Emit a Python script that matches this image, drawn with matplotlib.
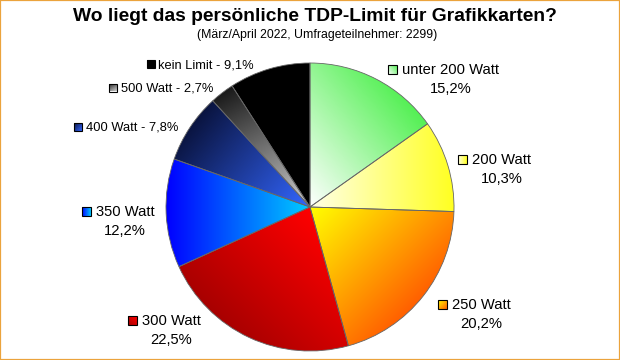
import numpy as np
import matplotlib
matplotlib.use('Agg')
import matplotlib.pyplot as plt
from matplotlib.colors import LinearSegmentedColormap
from matplotlib.patches import Rectangle

plt.rcParams['font.family'] = ['Liberation Sans', 'DejaVu Sans']

TITLE = "Wo liegt das persönliche TDP-Limit für Grafikkarten?"
SUBTITLE = "(März/April 2022, Umfrageteilnehmer: 2299)"

labels = ["unter 200 Watt", "200 Watt", "250 Watt", "300 Watt",
          "350 Watt", "400 Watt", "500 Watt", "kein Limit"]
shares = [15.2, 10.3, 20.2, 22.5, 12.2, 7.8, 2.7, 9.1]

# gradient per slice: start colour, end colour, direction (deg)
grad_start = ["#ffffff", "#ffffe8", "#ffff00", "#ff0000",
              "#0000ff", "#0a1440", "#1a1a1a", "#000000"]
grad_end = ["#55f055", "#ffff22", "#ff6000", "#a80000",
            "#00ccff", "#3366ff", "#d0d0d0", "#000000"]
grad_dir = [40, 0, -45, -135, 0, -40, -60, 0]

# label layout in pixels (square centre x, text baseline y, two lines?)
label_pos = [(392.5, 74, True), (462.5, 164, True), (442.5, 309, True),
             (132.5, 325, True), (86, 216, True), (78, 131, False),
             (113, 91.5, False), (150.5, 68, False)]

W, H = 620, 360
CX, CY, R = 310, H - 207, 144


def pct(v):
    return f"{v:.1f}".replace('.', ',') + "%"


def gradient_fill(ax, clip, c1, c2, angle, pts, extent):
    d = np.array([np.cos(np.radians(angle)), np.sin(np.radians(angle))])
    proj = pts @ d
    lo, hi = proj.min(), proj.max()
    xs = np.linspace(extent[0], extent[1], 300)
    ys = np.linspace(extent[2], extent[3], 300)
    X, Y = np.meshgrid(xs, ys)
    t = (X * d[0] + Y * d[1] - lo) / max(hi - lo, 1e-6)
    cmap = LinearSegmentedColormap.from_list("g", [c1, c2])
    im = ax.imshow(np.clip(t, 0, 1), extent=extent, origin='lower', cmap=cmap,
                   vmin=0, vmax=1, interpolation='bilinear', zorder=1)
    im.set_clip_path(clip)
    return im


fig = plt.figure(figsize=(6.2, 3.6), dpi=100)
ax = fig.add_axes([0, 0, 1, 1])

wedges, _ = ax.pie(shares, startangle=90, counterclock=False,
                   center=(CX, CY), radius=R, frame=True,
                   wedgeprops=dict(edgecolor='#666666', linewidth=0.6))

for i, w in enumerate(wedges):
    w.set_facecolor('none')
    w.set_zorder(2)
    th = np.radians(np.linspace(w.theta1, w.theta2, 60))
    pts = np.column_stack([CX + R * np.cos(th), CY + R * np.sin(th)])
    pts = np.vstack([pts, [CX, CY]])
    gradient_fill(ax, w, grad_start[i], grad_end[i], grad_dir[i], pts,
                  (CX - R, CX + R, CY - R, CY + R))

ax.set_xlim(0, W)
ax.set_ylim(0, H)
ax.axis('off')

# labels with small gradient squares
for i, (x, yb, two) in enumerate(label_pos):
    yy = H - yb
    s = 9 if two else 8
    sq = Rectangle((x - s / 2, yy), s, s, facecolor='none',
                   edgecolor='black', linewidth=0.8, zorder=4)
    ax.add_patch(sq)
    corners = np.array([[x - s / 2, yy], [x + s / 2, yy + s],
                        [x - s / 2, yy + s], [x + s / 2, yy]])
    gradient_fill(ax, sq, grad_start[i], grad_end[i], grad_dir[i], corners,
                  (x - s / 2, x + s / 2, yy, yy + s))
    if two:
        t = ax.text(x + 9.5, yy, labels[i], fontsize=10.6, va='baseline',
                    ha='left', color='black', zorder=5)
        fig.canvas.draw()
        bb = t.get_window_extent()
        ax.text((x + 9.5 + bb.x1) / 2, yy - 19, pct(shares[i]), fontsize=10.6,
                va='baseline', ha='center', color='black', zorder=5)
    else:
        ax.text(x + 8, yy, f"{labels[i]} - {pct(shares[i])}", fontsize=9.3,
                va='baseline', ha='left', color='black', zorder=5)

ax.text(315, H - 21, TITLE, fontsize=13.9, fontweight='bold',
        ha='center', va='baseline')
ax.text(317, H - 38, SUBTITLE, fontsize=8.8, ha='center', va='baseline')

fig.patches.append(Rectangle((0, 0), 1, 1, transform=fig.transFigure,
                             fill=False, edgecolor='#eba33c', linewidth=1.6))

fig.savefig("out.png", dpi=100, facecolor='white')
